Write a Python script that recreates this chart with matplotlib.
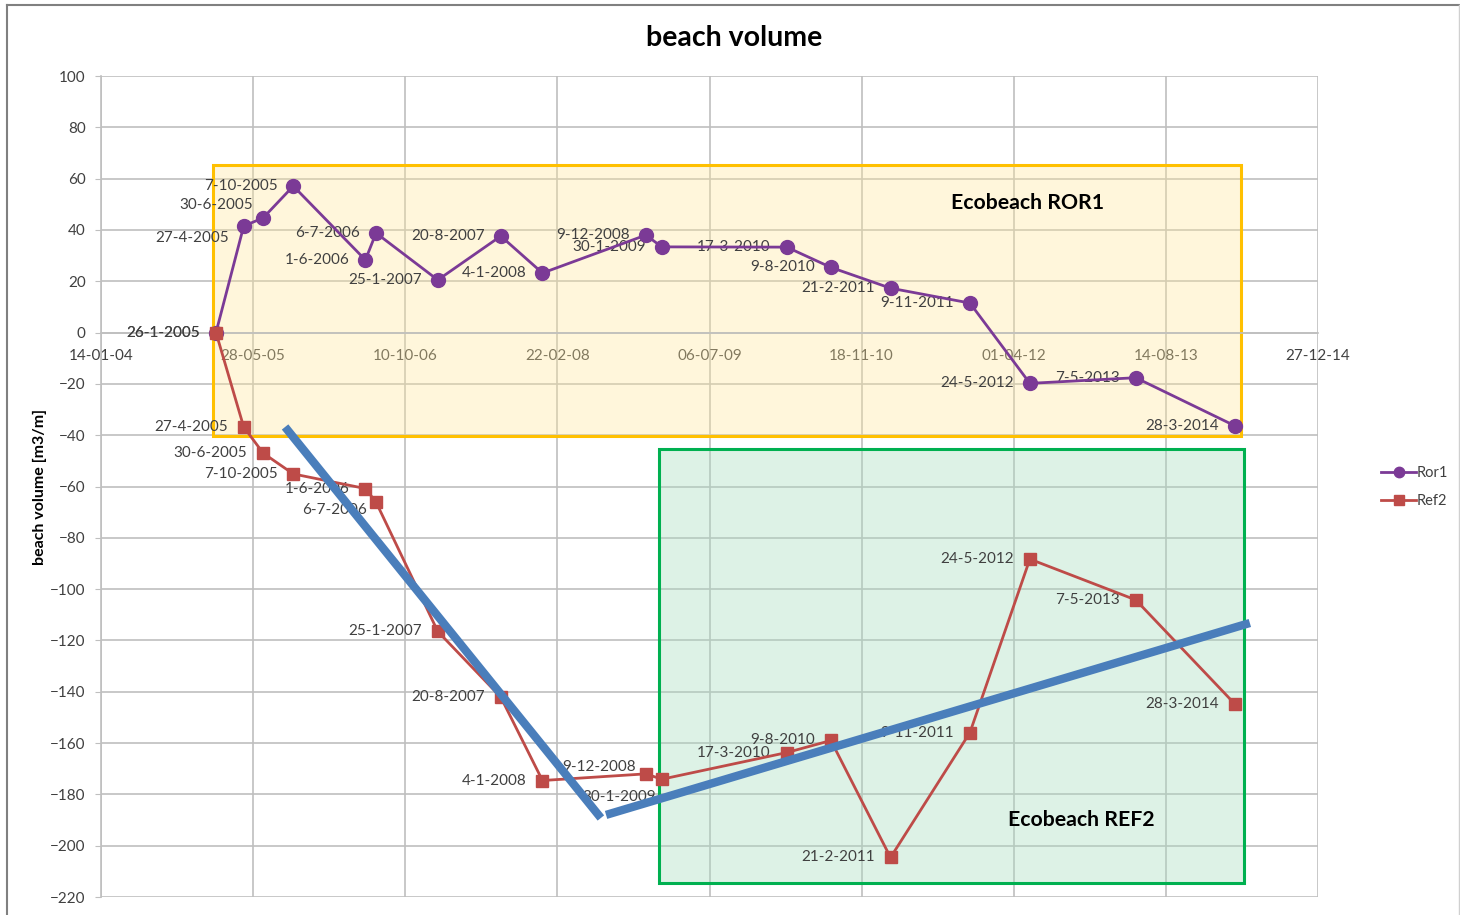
import numpy as np
import pandas as pd
import matplotlib
matplotlib.use("Agg")
import matplotlib.pyplot as plt
import matplotlib.dates as mdates
from matplotlib.patches import Rectangle
from matplotlib.lines import Line2D

plt.rcParams['font.family'] = ['Lato', 'DejaVu Sans']

# survey dates (same for both profiles)
dates = ['2005-01-26', '2005-04-27', '2005-06-30', '2005-10-07', '2006-06-01',
         '2006-07-06', '2007-01-25', '2007-08-20', '2008-01-04', '2008-12-09',
         '2009-01-30', '2010-03-17', '2010-08-09', '2011-02-21', '2011-11-09',
         '2012-05-24', '2013-05-07', '2014-03-28']
labels = ['26-1-2005', '27-4-2005', '30-6-2005', '7-10-2005', '1-6-2006',
          '6-7-2006', '25-1-2007', '20-8-2007', '4-1-2008', '9-12-2008',
          '30-1-2009', '17-3-2010', '9-8-2010', '21-2-2011', '9-11-2011',
          '24-5-2012', '7-5-2013', '28-3-2014']

ror1 = [0, 41.5, 44.7, 57.1, 28.3, 38.8, 20.5, 37.6, 23.2, 38.0,
        33.4, 33.3, 25.4, 17.3, 11.5, -19.8, -17.6, -36.3]
ref2 = [0, -36.8, -47.0, -55.1, -60.8, -66.1, -116.5, -142.1, -174.6, -172.0,
        -174.1, -163.7, -159.0, -204.6, -155.9, -88.3, -104.2, -144.7]

# highlighted areas and hand-drawn trend lines
ror1_box_x = ['2005-01-16', '2014-04-18']
ror1_box_y = [-40.3, 65.3]
ref2_box_x = ['2009-01-21', '2014-04-28']
ref2_box_y = [-214.5, -45.4]
trend1_x = ['2005-09-10', '2008-07-14']
trend1_y = [-36.8, -189.2]
trend2_x = ['2008-07-31', '2014-05-17']
trend2_y = [-188.0, -113.2]

x = pd.to_datetime(dates)

fig = plt.figure(figsize=(14.6, 9.15), dpi=100)
ax = fig.add_axes([101 / 1460, 18 / 915, 1217 / 1460, 821 / 915])

purple = '#7B3A96'
red = '#BE4B48'
grid_c = '#BFBFBF'
txt_c = '#404040'

ax.set_xlim(pd.Timestamp('2004-01-14'), pd.Timestamp('2014-12-27'))
ax.set_ylim(-220, 100)
ax.set_yticks(np.arange(-220, 101, 20))
ax.set_xticks(pd.date_range('2004-01-14', periods=9, freq='500D'))
ax.xaxis.set_major_formatter(mdates.DateFormatter('%d-%m-%y'))
ax.grid(True, color=grid_c, lw=1.2, zorder=0)
ax.set_axisbelow(True)

for s in ['top', 'right']:
    ax.spines[s].set_visible(False)
ax.spines['left'].set_color(grid_c)
ax.spines['left'].set_linewidth(1.2)
ax.spines['bottom'].set_position(('data', 0))
ax.spines['bottom'].set_color(grid_c)
ax.spines['bottom'].set_linewidth(1.2)
ax.tick_params(axis='y', length=4, color=grid_c, labelsize=11, labelcolor=txt_c, pad=7)
ax.tick_params(axis='x', length=0, labelsize=11, labelcolor=txt_c, pad=12)

# shaded boxes
x0, x1 = mdates.date2num(pd.to_datetime(ror1_box_x))
ax.add_patch(Rectangle((x0, ror1_box_y[0]), x1 - x0, ror1_box_y[1] - ror1_box_y[0],
                       facecolor=(1.0, 0.90, 0.60, 0.35), edgecolor='#FFC000', lw=2.2, zorder=1))
x0, x1 = mdates.date2num(pd.to_datetime(ref2_box_x))
ax.add_patch(Rectangle((x0, ref2_box_y[0]), x1 - x0, ref2_box_y[1] - ref2_box_y[0],
                       facecolor=(0.66, 0.87, 0.75, 0.38), edgecolor='#00B050', lw=2.2, zorder=1))

ax.text(pd.Timestamp('2012-05-18'), 50.5, 'Ecobeach ROR1', fontsize=15.3, fontweight='bold',
        color='black', ha='center', va='center', zorder=2)
ax.text(pd.Timestamp('2012-11-08'), -190, 'Ecobeach REF2', fontsize=15.3, fontweight='bold',
        color='black', ha='center', va='center', zorder=2)

ax.plot(x, ror1, color=purple, lw=2, marker='o', ms=10, label='Ror1', zorder=4)
ax.plot(x, ref2, color=red, lw=2, marker='s', ms=9, label='Ref2', zorder=4)

# data labels: left of the point, a few moved by hand (offsets in pixels)
ror1_off = {1: (-15, 12), 2: (-10, -13)}
ref2_off = {5: (-9, 8), 9: (-10, -7), 10: (-6, 18)}
for vals, offs in [(ror1, ror1_off), (ref2, ref2_off)]:
    for i, (d, v) in enumerate(zip(x, vals)):
        dx, dy = offs.get(i, (-16, 0))
        ax.annotate(labels[i], (d, v), xytext=(dx * 0.72, -dy * 0.72), textcoords='offset points',
                    ha='right', va='center', fontsize=11, color=txt_c, zorder=3)

# blue trend lines
ax.plot(pd.to_datetime(trend1_x), trend1_y, color='#4A7EBB', lw=6, solid_capstyle='butt', zorder=5)
ax.plot(pd.to_datetime(trend2_x), trend2_y, color='#4A7EBB', lw=6, solid_capstyle='butt', zorder=5)

fig.text(734 / 1460, 1 - 38 / 915, 'beach volume', fontsize=20.5, fontweight='bold',
         ha='center', va='center', color='black')
fig.text(40 / 1460, 1 - 487 / 915, 'beach volume [m3/m]', fontsize=11.5, fontweight='bold',
         rotation=90, ha='center', va='center', color='black')

ax.legend(loc='center left', bbox_to_anchor=(1368 / 1460, 1 - 487 / 915),
          bbox_transform=fig.transFigure, frameon=False, fontsize=10.5,
          labelcolor=txt_c, handlelength=2.4, handletextpad=0.05, labelspacing=1.0,
          markerscale=0.75)

# outer chart frame
fig.add_artist(Line2D([7 / 1460, 7 / 1460], [0, 1 - 5 / 915], color='#808080', lw=1.5))
fig.add_artist(Line2D([7 / 1460, 1459 / 1460], [1 - 5 / 915, 1 - 5 / 915], color='#808080', lw=1.5))
fig.add_artist(Line2D([1459 / 1460, 1459 / 1460], [0, 1 - 5 / 915], color='#D0D0D0', lw=1))

fig.savefig('out.png', dpi=100)
